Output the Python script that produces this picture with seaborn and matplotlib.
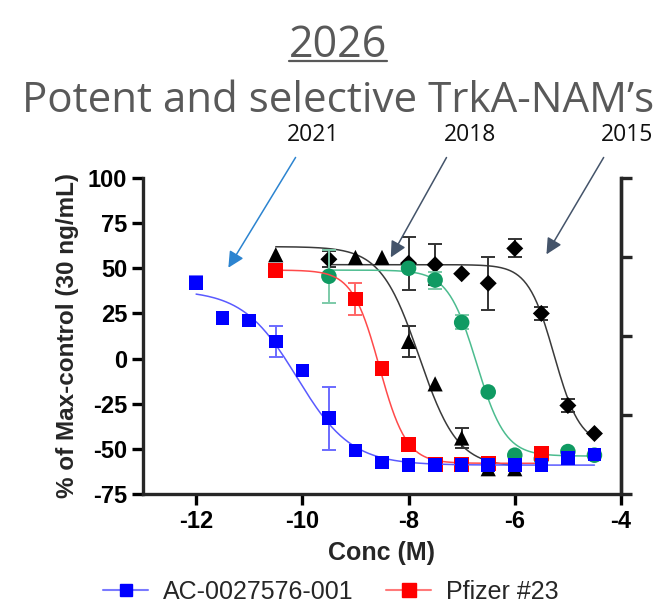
# TrkA-NAM dose-response curves (recreation)
import numpy as np
import pandas as pd
import matplotlib
matplotlib.use("Agg")
import matplotlib.pyplot as plt
from matplotlib.lines import Line2D
import seaborn as sns

# ---- data (log M, % of max-control) ----
ac_x = [-12, -11.5, -11, -10.5, -10, -9.5, -9, -8.5, -8, -7.5, -7, -6.5, -6, -5.5, -5, -4.5]
ac_y = [42, 22.5, 21, 9.5, -6.5, -33, -51, -57.5, -59, -59, -59, -59, -59, -59, -55, -53]
ac_err = [3.5, 0, 0, 8.8, 0, 17.4, 0, 0, 0, 0, 0, 0, 0, 0, 0, 0]

pf_x = [-10.5, -9, -8.5, -8, -7.5, -7, -6.5, -5.5]
pf_y = [49, 33, -5.5, -47.5, -58.5, -58.5, -58, -52.5]
pf_err = [0, 8.8, 0, 0, 0, 0, 0, 0]

tri_x = [-10.5, -9, -8.5, -8, -7.5, -7, -6.5, -6]
tri_y = [57.5, 56, 56, 9.5, -14, -44, -61, -61]
tri_err = [0, 0, 0, 8.6, 0, 5.8, 0, 0]

grn_x = [-9.5, -8, -7.5, -7, -6.5, -6, -5.5, -5, -4.5]
grn_y = [45.6, 50, 43.5, 20, -18.5, -53.5, -55.5, -51.5, -53.5]
grn_err = [14.6, 0, 4.7, 3.9, 0, 0, 0, 0, 0]

dia_x = [-9.5, -8, -7.5, -7, -6.5, -6, -5.5, -5, -4.5]
dia_y = [55, 52.8, 52, 47, 41.7, 61, 25, -26, -41.5]
dia_err = [4.4, 14.6, 11.3, 0, 14.6, 5, 3.8, 3.4, 0]

# fitted 4PL parameters: top, bottom, logIC50, hill, x range
ac_fit = [38, -59, -10.1, 0.85, -12, -4.5]
pf_fit = [49, -58, -8.55, 1.7, -10.5, -5.5]
tri_fit = [62, -60, -7.8, 1.2, -10.5, -6]
grn_fit = [49, -54, -6.72, 1.6, -9.5, -4.5]
dia_fit = [52, -48, -5.26, 1.77, -9.5, -4.5]

years = ["2021", "2018", "2015"]


def four_pl(p):
    top, bottom, c, h, x0, x1 = p
    xs = np.linspace(x0, x1, 200)
    ys = bottom + (top - bottom) / (1 + 10 ** ((xs - c) * h))
    return pd.DataFrame({"conc": xs, "resp": ys})


sns.set_style("ticks")
plt.rcParams["font.family"] = ["Liberation Sans", "DejaVu Sans"]
plt.rcParams["axes.unicode_minus"] = False

fig = plt.figure(figsize=(6.62, 6.04), dpi=100)
ax = fig.add_axes([143 / 662, 1 - 494 / 604, (621 - 143) / 662, (494 - 178) / 604])

series = [
    # x, y, err, fit, marker colour, line colour, err colour, marker, size
    (dia_x, dia_y, dia_err, dia_fit, "black", "#3a3a3a", "#333333", "D", 75),
    (tri_x, tri_y, tri_err, tri_fit, "black", "#3a3a3a", "#333333", "^", 120),
    (grn_x, grn_y, grn_err, grn_fit, "#0f9a62", "#4cbc8f", "#7ccaa8", "o", 125),
    (pf_x, pf_y, pf_err, pf_fit, "#ff0000", "#ff4a4a", "#ff6666", "s", 115),
    (ac_x, ac_y, ac_err, ac_fit, "#0000ff", "#5a5aff", "#6a6aff", "s", 95),
]

for i, (xs, ys, es, fit, mc, lc, ec, mk, sz) in enumerate(series):
    z = 2 + i * 3
    sns.lineplot(data=four_pl(fit), x="conc", y="resp", color=lc, lw=1.1,
                 ax=ax, zorder=z)
    df = pd.DataFrame({"conc": xs, "resp": ys, "err": es})
    eb = df[df["err"] > 0]
    ax.errorbar(eb["conc"], eb["resp"], yerr=eb["err"], fmt="none", ecolor=ec,
                elinewidth=1.4, capsize=5, capthick=1.4, zorder=z + 1)
    sns.scatterplot(data=df, x="conc", y="resp", marker=mk, s=sz, color=mc,
                    edgecolor="none", ax=ax, zorder=z + 2)

ax.set_xlim(-13, -4)
ax.set_ylim(-75, 100)
ax.set_xticks([-12, -10, -8, -6, -4])
ax.set_yticks([100, 75, 50, 25, 0, -25, -50, -75])
for lab in ax.get_xticklabels() + ax.get_yticklabels():
    lab.set_fontweight("bold")
ax.tick_params(labelsize=17, length=8, width=2.4, direction="out", colors="black")
ax.set_xlabel("Conc (M)", fontsize=18, fontweight="bold", labelpad=6)
ax.set_ylabel("% of Max-control (30 ng/mL)", fontsize=17.5, fontweight="bold", labelpad=6)
ax.spines["top"].set_visible(False)
for s in ["left", "bottom", "right"]:
    ax.spines[s].set_linewidth(2.4)

ax2 = ax.twinx()
ax2.set_ylim(-75, 100)
ax2.set_yticks(np.linspace(-75, 100, 5))
ax2.set_yticklabels([])
ax2.tick_params(length=8, width=2.4, direction="out")
ax2.spines["top"].set_visible(False)
ax2.spines["right"].set_linewidth(2.4)

# year arrows
arrow_cols = ["#2c84d0", "#44546a", "#44546a"]
tails = [(-10.1, 112.7), (-7.26, 112.7), (-4.30, 112.7)]
tips = [(-11.42, 49), (-8.36, 54.7), (-5.43, 56.4)]
text_x = [-9.79, -6.85, -3.89]
for yr, col, tail, tip, tx in zip(years, arrow_cols, tails, tips, text_x):
    ax.annotate("", xy=tip, xytext=tail, annotation_clip=False,
                arrowprops=dict(arrowstyle="-|>", color=col, lw=1.1, mutation_scale=24))
    ax.text(tx, 124, yr, ha="center", va="center", fontsize=16.5,
            family=["Open Sans", "DejaVu Sans"], color="#111111", clip_on=False)

# title
t1 = fig.text(338 / 662, 1 - 57 / 604, "2026", ha="center", va="baseline",
              fontsize=31, color="#595959", family=["Open Sans", "DejaVu Sans"])
fig.text(338 / 662, 1 - 112 / 604, "Potent and selective TrkA-NAM\u2019s", ha="center",
         va="baseline", fontsize=30.3, color="#595959", family=["Open Sans", "DejaVu Sans"])
fig.canvas.draw()
bb = t1.get_window_extent()
uy = 1 - 61 / 604
fig.add_artist(Line2D([bb.x0 / fig.bbox.width, bb.x1 / fig.bbox.width], [uy, uy],
                      color="#595959", lw=1.6))

# legend
handles = [
    Line2D([], [], color="#7a7aff", lw=1.5, marker="s", markersize=9,
           markerfacecolor="#0000ff", markeredgecolor="#0000ff"),
    Line2D([], [], color="#ff7a7a", lw=1.5, marker="s", markersize=10,
           markerfacecolor="#ff0000", markeredgecolor="#ff0000"),
]
fig.legend(handles, ["AC-0027576-001", "Pfizer #23"], loc="center",
           bbox_to_anchor=(0.5, 1 - 592 / 604), ncol=2, frameon=False,
           fontsize=18, handlelength=1.8, columnspacing=1.3, handletextpad=0.6)

fig.savefig("out.png", dpi=100)
